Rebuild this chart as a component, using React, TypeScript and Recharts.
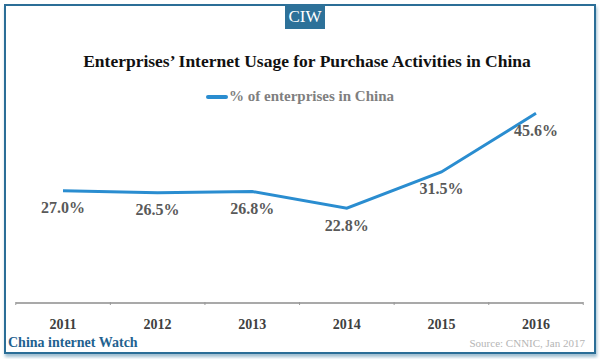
import { LineChart, Line, XAxis, YAxis, LabelList } from "recharts";

const years = ["2011", "2012", "2013", "2014", "2015", "2016"];
const shares = [27.0, 26.5, 26.8, 22.8, 31.5, 45.6];
const seriesName = "% of enterprises in China";

const data = years.map((year, i) => ({ year, value: shares[i] }));

const SERIF = '"Liberation Serif", "Times New Roman", serif';
const LINE_COLOR = "#2a8dd0";
const FRAME_COLOR = "#2b6e97";

const YearTick = (props: any) => {
    const { x, y, payload, index, width } = props;
    const band = width / years.length;
    const axisY = y - 8;
    return (
        <g>
            <line x1={x - band / 2} x2={x - band / 2} y1={axisY - 1} y2={axisY + 2} stroke="#9a9a9a" strokeWidth={1} />
            {index === years.length - 1 && (
                <line x1={x + band / 2} x2={x + band / 2} y1={axisY - 1} y2={axisY + 2} stroke="#9a9a9a" strokeWidth={1} />
            )}
            <text x={x} y={y + 18} textAnchor="middle" fontFamily={SERIF} fontWeight="bold" fontSize={14} fill="#404040">
                {payload.value}
            </text>
        </g>
    );
};

export default function App() {
    return (
        <div style={{ position: "absolute", left: 0, top: 0, width: 600, height: 359, background: "#fff", fontFamily: SERIF }}>
            <div
                style={{
                    position: "absolute",
                    left: 4,
                    top: 4,
                    width: 588,
                    height: 346,
                    border: `2px solid ${FRAME_COLOR}`,
                    boxShadow: "1px 3px 3px rgba(43,110,151,0.45)",
                }}
            />
            <div
                style={{
                    position: "absolute",
                    left: 285,
                    top: 4,
                    width: 40,
                    height: 25,
                    background: "#2d7199",
                    color: "#fff",
                    fontSize: 17,
                    lineHeight: "26px",
                    textAlign: "center",
                }}
            >
                CIW
            </div>
            <div
                style={{
                    position: "absolute",
                    left: 7,
                    top: 51,
                    width: 600,
                    textAlign: "center",
                    fontWeight: "bold",
                    fontSize: 17.5,
                    color: "#111",
                }}
            >
                Enterprises’ Internet Usage for Purchase Activities in China
            </div>
            <div
                style={{
                    position: "absolute",
                    left: 0,
                    top: 88,
                    width: 600,
                    display: "flex",
                    justifyContent: "center",
                    alignItems: "center",
                }}
            >
                <span style={{ display: "inline-block", width: 22, height: 4, background: LINE_COLOR, borderRadius: 2, marginRight: 1 }} />
                <span style={{ fontWeight: "bold", fontSize: 15, color: "#7f7f7f" }}>{seriesName}</span>
            </div>
            <div style={{ position: "absolute", left: 0, top: 0 }}>
                <LineChart width={600} height={359} data={data} margin={{ top: 95, right: 17, left: 16, bottom: 26 }}>
                    <XAxis
                        dataKey="year"
                        axisLine={{ stroke: "#8c8c8c", strokeWidth: 1.5 }}
                        tickLine={false}
                        height={30}
                        interval={0}
                        padding={{ left: 47, right: 47 }}
                        tick={<YearTick />}
                    />
                    <YAxis hide domain={[0, 50]} />
                    <Line
                        type="linear"
                        dataKey="value"
                        name={seriesName}
                        stroke={LINE_COLOR}
                        strokeWidth={3}
                        dot={false}
                        activeDot={false}
                        isAnimationActive={false}
                    >
                        <LabelList
                            dataKey="value"
                            position="bottom"
                            offset={11}
                            formatter={(v: any) => `${Number(v).toFixed(1)}%`}
                            style={{ fontFamily: SERIF, fontWeight: "bold", fontSize: 16, fill: "#595959" }}
                        />
                    </Line>
                </LineChart>
            </div>
            <div
                style={{
                    position: "absolute",
                    left: 8,
                    top: 335,
                    fontWeight: "bold",
                    fontSize: 14,
                    color: "#1f6290",
                }}
            >
                China internet Watch
            </div>
            <div
                style={{
                    position: "absolute",
                    right: 15,
                    top: 337,
                    fontSize: 11,
                    color: "#b5b5b5",
                }}
            >
                Source: CNNIC, Jan 2017
            </div>
        </div>
    );
}
